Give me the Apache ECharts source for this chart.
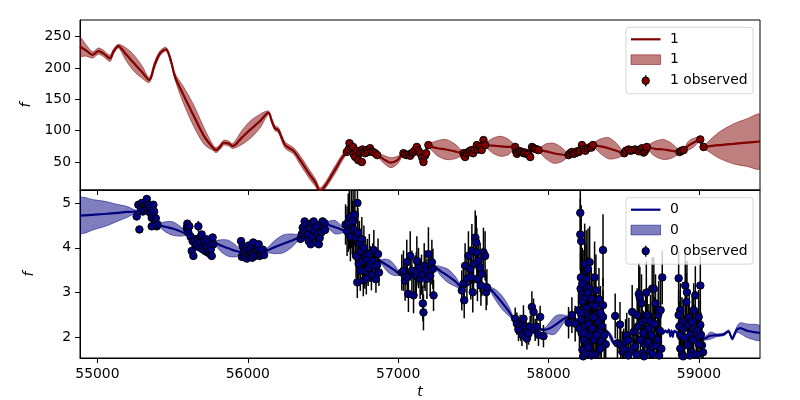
<!DOCTYPE html>
<html><head><meta charset="utf-8">
<script src="https://cdn.jsdelivr.net/npm/echarts@6/dist/echarts.min.js"></script>
<style>html,body{margin:0;padding:0;background:#fff}#c{width:800px;height:400px}</style>
</head><body><div id="c"></div>
<script>
// ---- axis ticks ----
const xTicks = [55000, 56000, 57000, 58000, 59000];
const yTicksTop = [50, 100, 150, 200, 250];
const yTicksBot = [2, 3, 4, 5];

// ---- channel "1" (top): GP fit [t, mean, band half-width] ----
const fit1 = [
[54884,234,15],[54925,228,9],[54968,221,5],[55006,227,5],[55039,223.5,5],[55084,215.5,5],[55106,226,4],[55139,235,3],
[55190,222,10],[55242,208,13],[55295,194,10],[55345,181,4],[55380,205,5],[55416,223.5,4],[55456,230,3],[55490,210,4],
[55516,186,5],[55570,158,13],[55640,124,17],[55710,91,13],[55771,72,4],[55789,69,4],[55815,74,4],[55838,80.7,4],
[55871,79.7,4],[55900,75.5,4],[55960,89,11],[56018,102,14],[56080,115,11],[56137,128.6,3],[56160,115,4],[56181,103.7,4],
[56203,101,4],[56248,77,5],[56303,68,5],[56348,53,7],[56414,29,7],[56450,17,6],[56481,4,5],[56525,16,5],[56558,29,6],
[56591,42,6],[56625,56,5],[56658,66,3],[56676,72,3],[56700,70,3],[56730,64,3],[56760,63,3],[56790,68,3],[56820,68,3],
[56860,62,3],[56900,55,6],[56950,49,8],[56995,53,6],[57035,63,3],[57091,63,3],[57124,68,3],[57168,62,3],[57201,75,3],
[57260,72,12],[57318,70,16],[57376,67,12],[57434,64,3],[57490,69,3],[57545,74,3],[57578,77,3],[57630,76,12],[57684,75,16],
[57735,74,12],[57778,74,3],[57856,66,3],[57890,70,3],[57933,69,3],[57983,67,12],[58033,64,16],[58083,62,12],[58133,61,3],
[58200,67,3],[58250,71,3],[58295,77,3],[58347,75,12],[58399,72,17],[58451,68,12],[58503,64,3],[58560,69,3],[58621,71,3],
[58654,73,3],[58708,71,12],[58763,70,16],[58817,68,12],[58871,66,3],[58898,68,3],[58930,76,7],[58965,81,7],[59009,86,3],
[59031,74,3],[59053,74.5,6],[59100,76,15],[59142,77,22],[59231,79,32],[59320,81,38],[59406,82.7,43]
];
// observed points of channel "1" [t, f]
const obs1 = [
[56658,66],[56670,70],[56676,80],[56690,72],[56700,74],[56705,62],[56714,58],[56722,68],[56734,53],[56742,64],[56750,67],
[56758,50],[56762,70],[56770,66],[56780,64],[56791,69],[56800,66],[56813,72],[56822,67],[56833,66],[56847,64],[56860,61],
[57035,64],[57045,62],[57057,61],[57070,62],[57080,60],[57091,64],[57100,66],[57113,69],[57124,74],[57135,68],[57146,64],
[57160,57],[57168,50],[57178,60],[57186,64],[57201,77],
[57434,64],[57440,60],[57445,58],[57455,64],[57467,66],[57478,68],[57490,69],[57498,64],[57510,70],[57523,77],[57530,70],
[57545,74],[57555,69],[57567,85],[57578,77],
[57778,74],[57785,66],[57790,63],[57800,66],[57812,67],[57823,66],[57835,64],[57845,65],[57856,63],[57867,62],[57878,58],
[57890,74],[57900,72],[57911,71],[57922,70],[57933,69],
[58133,61],[58143,64],[58155,66],[58166,63],[58177,64],[58190,67],[58200,66],[58210,68],[58222,77],[58233,70],[58245,68],
[58260,72],[58277,74],[58285,73],[58295,77],
[58503,64],[58515,68],[58532,70],[58545,68],[58560,69],[58575,70],[58588,69],[58600,67],[58610,70],[58621,72],[58632,65],
[58640,67],[58648,71],[58654,74],
[58871,66],[58884,68],[58898,69],[59009,86],[59031,74]
];
const obs1Err = 2; // error half-width (hidden below markers)

// ---- channel "0" (bottom): GP fit [t, mean, band half-width] ----
const fit0 = [
[54884,4.72,0.386],[54980,4.74,0.33],[55061,4.76,0.27],[55130,4.78,0.19],[55195,4.80,0.125],[55235,4.805,0.06],
[55261,4.81,0.03],[55300,4.86,0.03],[55350,4.72,0.03],[55405,4.52,0.03],[55450,4.47,0.11],[55500,4.43,0.15],
[55550,4.37,0.11],[55594,4.30,0.03],[55650,4.18,0.03],[55710,4.10,0.03],[55771,4.12,0.03],[55820,4.05,0.13],
[55870,3.99,0.18],[55920,3.93,0.13],[55960,3.90,0.03],[56040,3.88,0.03],[56115,3.93,0.03],[56175,4.01,0.14],
[56237,4.09,0.20],[56298,4.17,0.14],[56355,4.26,0.03],[56435,4.42,0.03],[56514,4.54,0.03],[56547,4.50,0.10],
[56580,4.46,0.15],[56614,4.42,0.10],[56647,4.37,0.03],[56760,4.05,0.03],[56880,3.71,0.03],[56913,3.64,0.11],
[56946,3.57,0.15],[56980,3.49,0.11],[57013,3.42,0.03],[57120,3.45,0.03],[57240,3.57,0.03],[57286,3.47,0.11],
[57333,3.37,0.15],[57380,3.25,0.11],[57426,3.12,0.03],[57510,3.25,0.03],[57598,3.12,0.03],[57643,2.97,0.11],
[57688,2.79,0.15],[57733,2.60,0.11],[57778,2.39,0.03],[57870,2.28,0.03],[57966,2.17,0.03],[58006,2.20,0.13],
[58045,2.28,0.20],[58085,2.38,0.13],[58124,2.45,0.03],[58260,2.30,0.03],[58390,2.13,0.03],[58418,1.98,0.08],
[58445,1.85,0.03],[58600,1.95,0.03],[58764,2.10,0.03],[58775,2.15,0.03],[58790,2.12,0.03],[58800,2.17,0.03],
[58810,2.03,0.03],[58818,2.15,0.03],[58826,2.02,0.03],[58835,2.14,0.03],[58850,2.12,0.03],[58865,2.10,0.03],
[58950,2.00,0.03],[59031,1.97,0.03],[59075,2.04,0.08],[59120,2.05,0.03],[59165,2.07,0.03],[59197,2.14,0.03],
[59210,2.05,0.03],[59222,1.97,0.03],[59240,2.10,0.04],[59253,2.18,0.07],[59275,2.21,0.12],[59320,2.15,0.15],
[59406,2.10,0.16]
];
// observed points of channel "0" [t, f, error half-width]
const obs0 = [
[55261,4.70,0.04],[55272,4.96,0.04],[55279,4.41,0.08],[55290,4.86,0.04],[55295,5.00,0.04],[55302,4.81,0.04],[55310,4.92,0.05],
[55317,4.85,0.04],[55322,4.95,0.04],[55328,5.09,0.04],[55333,4.88,0.04],[55339,4.96,0.04],[55345,4.84,0.04],[55350,4.78,0.04],
[55356,4.90,0.04],[55361,4.67,0.04],[55366,4.72,0.04],[55372,4.96,0.04],[55377,4.81,0.04],[55383,4.59,0.04],[55388,4.66,0.04],
[55394,4.48,0.04],[55361,4.48,0.04],[55400,4.52,0.04],
[55594,4.45,0.05],[55598,4.54,0.05],[55600,4.38,0.05],[55605,4.34,0.05],[55611,4.48,0.08],[55620,4.25,0.05],[55627,3.93,0.05],
[55633,4.15,0.05],[55638,3.82,0.07],[55645,4.19,0.05],[55652,4.05,0.05],[55660,4.08,0.05],[55666,4.20,0.05],[55671,4.48,0.12],
[55677,4.01,0.05],[55682,4.23,0.05],[55688,4.12,0.05],[55693,4.30,0.05],[55699,3.97,0.05],[55704,4.04,0.05],[55710,4.15,0.05],
[55716,3.93,0.05],[55721,4.05,0.05],[55727,4.19,0.05],[55732,3.90,0.05],[55738,4.12,0.05],[55744,4.02,0.05],[55749,3.86,0.05],
[55754,3.97,0.05],[55760,3.82,0.05],[55766,4.23,0.05],[55771,4.08,0.05],
[55955,4.15,0.04],[55960,3.80,0.04],[55965,4.04,0.04],[55970,3.88,0.04],[55975,3.93,0.04],[55980,3.79,0.04],[55987,4.00,0.04],
[55993,3.76,0.04],[56000,3.86,0.04],[56005,4.05,0.04],[56010,3.95,0.04],[56015,3.80,0.04],[56020,3.99,0.04],[56025,3.88,0.04],
[56030,3.78,0.04],[56036,4.12,0.04],[56042,3.90,0.04],[56048,3.82,0.04],[56054,4.00,0.04],[56060,3.85,0.04],[56066,3.95,0.04],
[56072,4.08,0.04],[56078,3.82,0.04],[56085,3.93,0.04],[56092,3.86,0.04],[56100,3.96,0.04],[56108,3.84,0.04],
[56350,4.20,0.04],[56358,4.30,0.04],[56365,4.45,0.04],[56372,4.38,0.04],[56378,4.59,0.04],[56385,4.25,0.04],[56392,4.52,0.04],
[56398,4.30,0.04],[56405,4.15,0.04],[56412,4.44,0.04],[56418,4.08,0.04],[56425,4.55,0.04],[56432,4.25,0.04],[56438,4.59,0.04],
[56445,4.37,0.04],[56452,4.12,0.04],[56458,4.48,0.04],[56465,4.30,0.04],[56472,4.08,0.04],[56478,4.22,0.04],[56485,4.52,0.04],
[56490,4.35,0.04],[56497,4.59,0.04],[56503,4.45,0.04],[56510,4.55,0.04],[56514,4.40,0.04],
[56650,4.52,0.45],[56660,4.37,0.55],[56668,4.56,0.65],[56675,4.67,0.7],[56682,4.25,0.55],[56688,4.70,0.7],[56694,4.45,0.6],
[56700,4.60,0.75],[56705,4.40,0.55],[56712,4.74,0.7],[56716,4.23,0.6],[56720,3.82,0.5],[56729,5.00,0.7],[56728,3.23,0.35],
[56732,4.34,0.55],[56738,3.64,0.45],[56742,4.10,0.5],[56748,3.49,0.45],[56752,3.93,0.5],[56758,4.19,0.5],[56762,3.71,0.45],
[56768,3.27,0.35],[56772,4.00,0.5],[56778,3.49,0.4],[56782,3.80,0.45],[56788,3.31,0.35],[56795,3.75,0.45],[56800,3.55,0.4],
[56808,3.86,0.45],[56815,3.64,0.4],[56822,3.40,0.35],[56830,3.70,0.4],[56838,3.95,0.45],[56845,3.58,0.35],[56852,3.30,0.3],
[56860,3.62,0.3],[56866,3.86,0.35],[56872,3.45,0.3],
[57024,3.45,0.4],[57035,3.49,0.45],[57046,3.27,0.45],[57057,3.68,0.5],[57068,2.97,0.4],[57080,3.82,0.55],[57091,3.49,0.45],
[57102,2.94,0.4],[57113,3.38,0.45],[57124,3.71,0.55],[57135,3.55,0.45],[57146,3.31,0.45],[57164,2.76,0.4],[57168,2.56,0.4],
[57173,3.60,0.5],[57179,3.49,0.45],[57191,3.31,0.45],[57201,3.86,0.6],[57213,3.38,0.45],[57224,3.68,0.5],[57231,3.53,0.45],
[57235,2.94,0.35],[57060,3.35,0.45],[57120,3.45,0.45],[57155,3.40,0.45],
[57423,3.05,0.45],[57434,3.20,0.45],[57439,2.83,0.4],[57445,3.60,0.5],[57457,3.31,0.5],[57467,3.82,0.55],[57479,3.53,0.5],
[57483,3.35,0.5],[57490,3.93,0.6],[57496,3.01,0.45],[57501,3.64,0.55],[57512,4.23,0.6],[57519,4.12,0.6],[57523,3.90,0.55],
[57527,3.31,0.5],[57534,3.71,0.55],[57545,3.56,0.55],[57550,3.16,0.45],[57556,3.42,0.5],[57567,3.90,0.55],[57578,3.82,0.55],
[57585,3.01,0.4],[57590,3.12,0.4],
[57778,2.42,0.25],[57789,2.31,0.25],[57800,2.17,0.25],[57811,2.26,0.25],[57816,2.17,0.25],[57823,2.06,0.25],[57833,2.42,0.3],
[57845,2.24,0.25],[57850,2.12,0.25],[57856,1.98,0.25],[57867,2.09,0.25],[57878,2.24,0.25],[57889,2.68,0.35],[57900,2.57,0.3],
[57911,2.17,0.25],[57922,2.24,0.25],[57933,2.06,0.25],[57944,2.46,0.25],[57966,2.03,0.25],
[58133,2.33,0.35],[58155,2.50,0.4],[58177,2.31,0.4],[58199,2.61,0.45],[58211,4.78,0.7],[58211,4.30,0.8],[58217,4.15,0.8],
[58215,3.34,0.9],[58213,3.09,0.8],[58222,2.80,0.7],[58225,2.95,0.8],[58228,2.60,0.7],[58218,2.40,0.7],[58220,2.10,0.6],
[58230,2.25,0.6],[58232,1.95,0.6],[58236,1.75,0.5],[58226,1.72,0.5],[58240,3.64,0.9],[58250,3.49,0.9],[58262,3.53,0.9],
[58273,3.68,0.8],[58250,3.30,0.8],[58273,3.09,0.7],[58284,2.87,0.7],[58295,2.72,0.7],[58306,3.34,0.8],[58318,2.50,0.6],
[58329,2.35,0.6],[58340,2.13,0.5],[58351,1.91,0.5],[58362,3.95,0.8],[58362,2.72,0.6],[58362,2.46,0.6],[58273,1.69,0.45],
[58329,1.69,0.45],[58245,2.90,0.7],[58255,2.65,0.7],[58265,2.30,0.6],[58270,2.05,0.55],[58280,2.45,0.6],[58290,2.20,0.6],
[58300,1.95,0.5],[58310,2.70,0.7],[58320,2.05,0.5],[58335,2.85,0.7],[58345,2.55,0.6],[58355,2.25,0.55],[58370,2.05,0.5],
[58380,1.85,0.45],[58240,2.10,0.6],[58258,1.85,0.5],[58285,1.60,0.45],[58300,2.45,0.6],[58315,3.05,0.8],[58235,3.15,0.8],
[58245,2.55,0.7],[58260,3.00,0.8],[58205,2.20,0.5],[58214,2.55,0.6],[58224,3.20,0.8],[58230,1.58,0.45],[58248,1.65,0.45],
[58265,1.78,0.5],[58310,1.62,0.45],[58342,1.75,0.45],
[58443,2.48,0.5],[58458,1.87,0.45],[58475,2.29,0.5],[58480,1.83,0.45],[58490,1.69,0.45],[58500,1.75,0.45],[58512,1.91,0.5],
[58520,2.05,0.5],[58534,1.94,0.5],[58545,1.70,0.45],[58556,2.57,0.6],[58567,2.13,0.5],[58575,1.80,0.45],[58589,2.50,0.6],
[58595,2.25,0.55],[58600,2.97,0.7],[58607,2.88,0.7],[58610,1.95,0.5],[58618,2.76,0.65],[58622,2.35,0.55],[58625,1.65,0.45],
[58630,2.10,0.5],[58640,1.85,0.45],[58645,2.40,0.6],[58650,3.00,0.7],[58656,2.50,0.6],[58660,1.90,0.5],[58667,2.20,0.55],
[58672,1.70,0.45],[58678,2.35,0.6],[58685,2.05,0.5],[58689,3.09,0.7],[58695,1.80,0.45],[58700,3.09,0.7],[58705,2.30,0.6],
[58711,2.76,0.65],[58718,1.83,0.45],[58725,1.95,0.5],[58729,2.50,0.6],[58733,2.61,0.65],[58740,2.15,0.55],[58745,2.61,0.65],
[58750,1.75,0.45],[58756,3.34,0.6],[58530,1.60,0.45],[58585,1.62,0.45],[58635,1.58,0.45],[58690,1.63,0.45],[58735,1.60,0.45],
[58865,3.32,0.6],[58876,2.61,0.6],[58865,2.50,0.55],[58887,2.35,0.55],[58898,2.20,0.55],[58909,3.16,0.7],[58920,3.01,0.7],
[58916,2.79,0.65],[58931,2.28,0.55],[58943,2.06,0.5],[58965,2.61,0.6],[58965,2.20,0.55],[58976,2.94,0.65],[58982,1.98,0.5],
[58998,2.46,0.6],[59009,3.16,0.65],[59009,2.28,0.55],[59013,2.06,0.5],[59020,1.83,0.45],[59027,1.67,0.45],[58876,1.75,0.45],
[58887,1.62,0.45],[58876,2.05,0.5],[58925,1.83,0.45],[58950,1.68,0.45],[58935,2.45,0.6],[58955,2.35,0.6],[58990,2.15,0.5],
[59000,1.85,0.45],[58870,2.25,0.55],[58905,2.00,0.5],[58960,1.95,0.5],[58895,1.58,0.45],[58940,1.60,0.45],[58985,1.62,0.45]
];

// ---- colours ----
const red = '#800000', redFill = 'rgba(128,0,0,0.5)';
const blue = '#000080', blueFill = 'rgba(0,0,128,0.5)';
const FONT = 'DejaVu Sans';
const FS = 13.9;

function bandSeries(xi, yi, fit, fill) {
  return {
    type: 'custom', xAxisIndex: xi, yAxisIndex: yi, clip: true, silent: true, z: 1,
    data: fit.map(r => [r[0], r[1] - r[2], r[1] + r[2]]),
    encode: { x: 0, y: [1, 2] },
    renderItem: function (params, api) {
      if (params.dataIndexInside !== 0) return;
      const n = params.dataInsideLength;
      const up = [], lo = [];
      for (let i = 0; i < n; i++) {
        up.push(api.coord([api.value(0, i), api.value(2, i)]));
        lo.push(api.coord([api.value(0, i), api.value(1, i)]));
      }
      return { type: 'polygon', shape: { points: up.concat(lo.reverse()), smooth: 0.3 },
               style: { fill: fill, stroke: fill, lineWidth: 1 } };
    }
  };
}
function lineSeries(xi, yi, fit, color) {
  return { type: 'line', xAxisIndex: xi, yAxisIndex: yi, data: fit.map(r => [r[0], r[1]]),
    showSymbol: false, symbol: 'none', smooth: 0.3, clip: true, z: 2, silent: true,
    lineStyle: { color: color, width: 2.2 } };
}
function errSeries(xi, yi, data) {
  return { type: 'custom', xAxisIndex: xi, yAxisIndex: yi, clip: true, silent: true, z: 3,
    data: data, encode: { x: 0, y: 1 },
    renderItem: function (params, api) {
      const t = api.value(0), y = api.value(1), e = api.value(2);
      const a = api.coord([t, y - e]), b = api.coord([t, y + e]);
      return { type: 'line', shape: { x1: a[0], y1: a[1], x2: b[0], y2: b[1] },
               style: { stroke: '#000', lineWidth: 1.5 } };
    } };
}
function scatterSeries(xi, yi, data, color) {
  return { type: 'scatter', xAxisIndex: xi, yAxisIndex: yi, clip: true, silent: true, z: 4,
    data: data.map(r => [r[0], r[1]]), symbol: 'circle', symbolSize: 7.5,
    itemStyle: { color: color, borderColor: '#000', borderWidth: 1, opacity: 1 } };
}
function xAxis(gi, showLabels) {
  return { type: 'value', gridIndex: gi, min: 54884, max: 59406,
    name: showLabels ? 't' : '', nameLocation: 'middle', nameGap: 27,
    nameTextStyle: { fontFamily: FONT, fontSize: FS, fontStyle: 'italic', color: '#000' },
    axisLine: { show: true, onZero: false, lineStyle: { color: '#000', width: 1 } },
    axisTick: { show: true, length: 5, customValues: xTicks, lineStyle: { color: '#000' } },
    axisLabel: { show: showLabels, customValues: xTicks, margin: 9, fontFamily: FONT, fontSize: FS, color: '#000',
      formatter: v => String(v) },
    splitLine: { show: false } };
}
function yAxis(gi, min, max, ticks) {
  return { type: 'value', gridIndex: gi, min: min, max: max,
    name: 'f', nameLocation: 'middle', nameGap: 44, nameRotate: 90,
    nameTextStyle: { fontFamily: FONT, fontSize: FS, fontStyle: 'italic', color: '#000' },
    axisLine: { show: true, onZero: false, lineStyle: { color: '#000', width: 1 } },
    axisTick: { show: true, length: 5, customValues: ticks, lineStyle: { color: '#000' } },
    axisLabel: { show: true, customValues: ticks, margin: 9, fontFamily: FONT, fontSize: FS, color: '#000',
      formatter: v => String(v) },
    splitLine: { show: false } };
}
function legend(top, lineColor, fill, label) {
  const x0 = 626, w = 127, h = 66.5;
  const txt = (y, s) => ({ type: 'text', x: 670, y: y, style: { text: s, fontFamily: FONT, fontSize: FS,
    fill: '#000', verticalAlign: 'middle', align: 'left' }, z: 101 });
  return [
    { type: 'rect', shape: { x: x0, y: top, width: w, height: h, r: 3 },
      style: { fill: 'rgba(255,255,255,0.8)', stroke: 'rgba(204,204,204,0.8)', lineWidth: 1 }, z: 100 },
    { type: 'line', shape: { x1: 631, y1: top + 12, x2: 660.5, y2: top + 12 }, style: { stroke: lineColor, lineWidth: 2.2 }, z: 101 },
    txt(top + 12, label),
    { type: 'rect', shape: { x: 631, y: top + 27.5, width: 29.5, height: 9.7 }, style: { fill: fill, stroke: fill, lineWidth: 1 }, z: 101 },
    txt(top + 32.3, label),
    { type: 'line', shape: { x1: 645.7, y1: top + 48, x2: 645.7, y2: top + 59 }, style: { stroke: '#000', lineWidth: 1.5 }, z: 101 },
    { type: 'circle', shape: { cx: 645.7, cy: top + 53.4, r: 3.7 }, style: { fill: lineColor, stroke: '#000', lineWidth: 1 }, z: 102 },
    txt(top + 53.4, label + ' observed')
  ];
}

const chart = echarts.init(document.getElementById('c'), null, { renderer: 'canvas' });
chart.setOption({
  animation: false,
  backgroundColor: '#fff',
  grid: [
    { left: 80, top: 20, width: 680, height: 170, show: true, borderColor: '#000', borderWidth: 1, backgroundColor: 'transparent' },
    { left: 80, top: 190, width: 680, height: 170, show: true, borderColor: '#000', borderWidth: 1, backgroundColor: 'transparent' }
  ],
  xAxis: [xAxis(0, false), xAxis(1, true)],
  yAxis: [yAxis(0, 5.3, 276.7, yTicksTop), yAxis(1, 1.543, 5.29, yTicksBot)],
  series: [
    bandSeries(0, 0, fit1, redFill),
    lineSeries(0, 0, fit1, red),
    errSeries(0, 0, obs1.map(r => [r[0], r[1], obs1Err])),
    scatterSeries(0, 0, obs1, red),
    bandSeries(1, 1, fit0, blueFill),
    lineSeries(1, 1, fit0, blue),
    errSeries(1, 1, obs0),
    scatterSeries(1, 1, obs0, blue)
  ],
  graphic: legend(27.3, red, redFill, '1').concat(legend(197.7, blue, blueFill, '0'))
});
</script></body></html>
